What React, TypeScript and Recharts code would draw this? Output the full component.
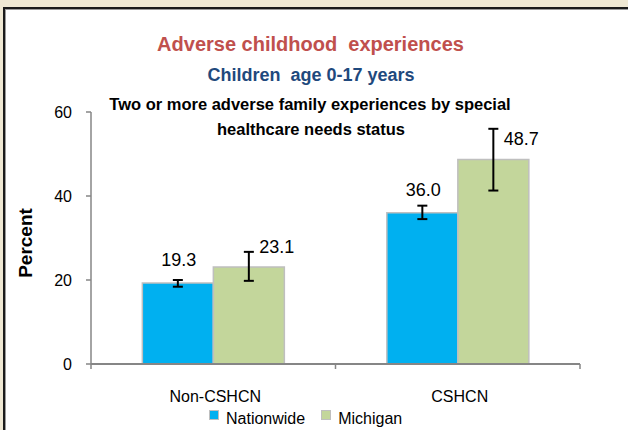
import React from 'react';
import { BarChart, Bar, XAxis, YAxis, ErrorBar, LabelList } from 'recharts';

const categories = ['Non-CSHCN', 'CSHCN'];
const nationwideValues = [19.3, 36.0];
const michiganValues = [23.1, 48.7];
// [below, above] extent of the confidence interval
const nationwideErrors: [number, number][] = [[0.9, 0.7], [1.5, 1.7]];
const michiganErrors: [number, number][] = [[3.3, 3.6], [7.4, 7.3]];
const yTicks = [0, 20, 40, 60];

const seriesInfo = [
  { key: 'nationwide', name: 'Nationwide', color: '#00B0F0' },
  { key: 'michigan', name: 'Michigan', color: '#C3D69B' },
];

const data = categories.map((c, i) => ({
  category: c,
  nationwide: nationwideValues[i],
  michigan: michiganValues[i],
  nationwideErr: nationwideErrors[i],
  michiganErr: michiganErrors[i],
}));

const FONT = '"Liberation Sans", Arial, sans-serif';
const CHART_W = 628;
const CHART_H = 430;
const MARGIN = { top: 112, right: 48, bottom: 36, left: 31 };
const Y_AXIS_W = 60;
const X_AXIS_H = 30;
const AXIS_COLOR = '#868686';
const BAND = (CHART_W - MARGIN.left - MARGIN.right - Y_AXIS_W) / categories.length;

const XTick = (props: any) => {
  const { x, y, payload, index } = props;
  return (
    <g>
      {index === 0 && (
        <line x1={x - BAND / 2} y1={y} x2={x - BAND / 2} y2={y + 5} stroke={AXIS_COLOR} strokeWidth={1.5} />
      )}
      <line x1={x + BAND / 2} y1={y} x2={x + BAND / 2} y2={y + 5} stroke={AXIS_COLOR} strokeWidth={1.5} />
      <text x={x + 2} y={y + 32} textAnchor="middle" dominantBaseline="central" fontSize={16} fill="#000" fontFamily={FONT}>
        {payload.value}
      </text>
    </g>
  );
};

const NatLabel = (p: any) => (
  <text x={p.x + p.width / 2 + 1} y={p.y - 23} textAnchor="middle" dominantBaseline="central" fontSize={18} fill="#000" fontFamily={FONT}>
    {Number(p.value).toFixed(1)}
  </text>
);

const MiLabel = (p: any) => (
  <text x={p.x + p.width / 2 + 28} y={p.y - 20} textAnchor="middle" dominantBaseline="central" fontSize={18} fill="#000" fontFamily={FONT}>
    {Number(p.value).toFixed(1)}
  </text>
);

const titleStyle = (top: number, size: number, color: string, center: number): React.CSSProperties => ({
  position: 'absolute',
  left: center - 300,
  width: 600,
  top,
  textAlign: 'center',
  fontSize: size,
  lineHeight: 1,
  fontWeight: 'bold',
  color,
  fontFamily: FONT,
  whiteSpace: 'nowrap',
});

export default function App() {
  return (
    <div style={{ position: 'absolute', left: 0, top: 0, width: CHART_W, height: CHART_H, background: '#EFE8D3', overflow: 'hidden', fontFamily: FONT }}>
      <div
        style={{
          position: 'absolute',
          left: 3,
          top: 7,
          right: 0,
          bottom: 0,
          background: '#fff',
          borderLeft: '2px solid #1a1a1a',
          borderTop: '2px solid #1a1a1a',
          boxShadow: 'inset 1px 1px 0 #9a9a9a',
        }}
      />
      <div style={{ position: 'absolute', left: 0, top: 0 }}>
        <BarChart width={CHART_W} height={CHART_H} data={data} margin={MARGIN} barCategoryGap="21%" barGap={0}>
          <XAxis
            dataKey="category"
            height={X_AXIS_H}
            axisLine={{ stroke: AXIS_COLOR, strokeWidth: 2 }}
            tickLine={false}
            tickSize={0}
            tickMargin={0}
            tick={<XTick />}
            interval={0}
          />
          <YAxis
            width={Y_AXIS_W}
            domain={[0, 60]}
            ticks={yTicks}
            axisLine={{ stroke: AXIS_COLOR, strokeWidth: 1.5 }}
            tickLine={{ stroke: AXIS_COLOR, strokeWidth: 1.5 }}
            tickSize={5}
            tickMargin={14}
            tick={{ fontSize: 16, fill: '#000', fontFamily: FONT }}
          />
          <Bar dataKey="nationwide" name="Nationwide" fill={seriesInfo[0].color} stroke="#BFBFBF" strokeWidth={1.5} isAnimationActive={false}>
            <ErrorBar dataKey="nationwideErr" width={5} strokeWidth={2} stroke="#000" direction="y" />
            <LabelList dataKey="nationwide" content={<NatLabel />} />
          </Bar>
          <Bar dataKey="michigan" name="Michigan" fill={seriesInfo[1].color} stroke="#BFBFBF" strokeWidth={1.5} isAnimationActive={false}>
            <ErrorBar dataKey="michiganErr" width={5} strokeWidth={2} stroke="#000" direction="y" />
            <LabelList dataKey="michigan" content={<MiLabel />} />
          </Bar>
        </BarChart>
      </div>

      <div style={titleStyle(34, 20, '#C0504D', 310.5)}>Adverse childhood&nbsp; experiences</div>
      <div style={titleStyle(66, 18, '#1F497D', 311)}>Children&nbsp; age 0-17 years</div>
      <div style={titleStyle(96, 16.5, '#000', 310)}>Two or more adverse family experiences by special</div>
      <div style={titleStyle(121, 16.5, '#000', 311)}>healthcare needs status</div>

      <div
        style={{
          position: 'absolute',
          left: 25,
          top: 243,
          transform: 'translate(-50%, -50%) rotate(-90deg)',
          fontSize: 19,
          fontWeight: 'bold',
          color: '#000',
          fontFamily: FONT,
          lineHeight: 1,
          whiteSpace: 'nowrap',
        }}
      >
        Percent
      </div>

      <div style={{ position: 'absolute', left: 209, top: 410, display: 'flex', alignItems: 'center', height: 18 }}>
        {seriesInfo.map((s) => (
          <div key={s.key} style={{ display: 'flex', alignItems: 'center', marginRight: 16 }}>
            <div style={{ width: 8, height: 8, background: s.color, border: '1px solid #BFBFBF', transform: 'translateY(-4px)' }} />
            <span style={{ marginLeft: 7, fontSize: 16, lineHeight: '18px', color: '#000', fontFamily: FONT }}>{s.name}</span>
          </div>
        ))}
      </div>
    </div>
  );
}
